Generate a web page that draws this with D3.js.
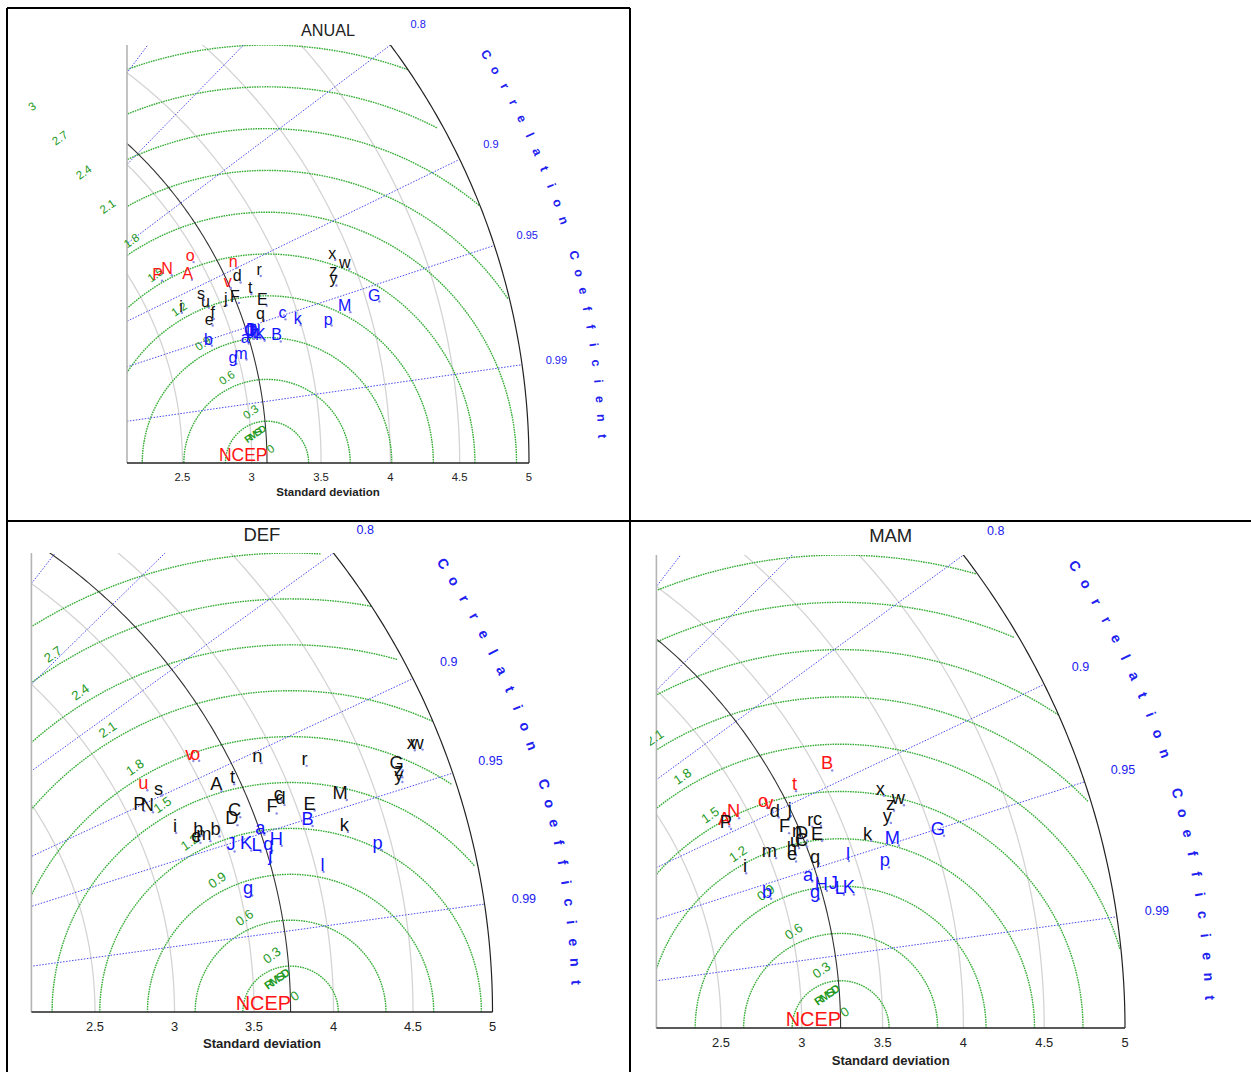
<!DOCTYPE html>
<html>
<head>
<meta charset="utf-8">
<script src="https://cdn.jsdelivr.net/npm/d3@7"></script>
<style>
  body { margin: 0; background: #fff; }
  svg { display: block; }
  text { font-family: "Liberation Sans", Arial, Helvetica, sans-serif; }
</style>
</head>
<body>
<svg id="fig" width="1251" height="1072"></svg>
<script>
// ---- Taylor diagram values: standard deviation and correlation per run ----
const panelNames = ["ANUAL", "DEF", "MAM"];
const refStd = [3.11, 3.73, 3.24];           // NCEP reference standard deviation
const stdTicks = [2.5, 3, 3.5, 4, 4.5, 5];
const stdCircles = [2.5, 3, 3.5, 4, 4.5];
const corrLines = [0.1, 0.2, 0.3, 0.4, 0.5, 0.6, 0.7, 0.8, 0.9, 0.95, 0.99];
const corrTickLabels = [0.8, 0.9, 0.95, 0.99];
const rmsTicks = [0.3, 0.6, 0.9, 1.2, 1.5, 1.8, 2.1, 2.4, 2.7, 3];
const stdMax = 5;
// group: 0 = red, 1 = black, 2 = blue
const anualLabels = ["a","b","c","d","e","f","g","i","j","k","l","m","n","o","p","q","r","s","t","u","v","w","x","y","z","A","B","C","D","E","F","G","H","I","J","K","L","M","N","P"];
const anualStd  = [3.099,2.840,3.403,3.194,2.892,2.916,2.976,2.719,3.037,3.496,3.145,3.054,3.213,2.956,3.710,3.253,3.346,2.902,3.234,2.912,3.114,3.958,3.886,3.829,3.849,2.886,3.326,3.152,3.167,3.306,3.126,4.089,3.188,3.140,3.143,3.215,3.191,3.866,2.772,2.692];
const anualCorr = [0.961,0.955,0.953,0.914,0.940,0.935,0.971,0.918,0.928,0.959,0.958,0.970,0.900,0.873,0.964,0.949,0.916,0.915,0.927,0.924,0.915,0.936,0.927,0.943,0.938,0.890,0.965,0.958,0.958,0.940,0.930,0.959,0.959,0.957,0.959,0.962,0.960,0.960,0.874,0.874];
const anualGroup = [2,2,2,1,1,1,2,1,1,2,2,2,0,0,2,1,1,1,1,1,0,1,1,1,1,0,2,2,2,1,1,2,2,2,2,2,2,2,0,0];

const defLabels = ["a","b","c","d","e","g","h","i","j","k","l","m","n","o","p","q","r","s","t","u","v","w","x","y","z","A","B","C","D","E","F","G","H","J","K","L","M","N","P"];
const defStd  = [3.749,3.478,3.926,3.932,3.351,3.571,3.379,3.230,3.739,4.257,4.043,3.414,3.902,3.557,4.431,3.766,4.155,3.246,3.689,3.179,3.524,4.872,4.825,4.681,4.691,3.598,4.055,3.643,3.609,4.099,3.867,4.709,3.832,3.537,3.639,3.694,4.312,3.148,3.102];
const defCorr = [0.951,0.944,0.936,0.939,0.944,0.977,0.940,0.932,0.965,0.961,0.974,0.945,0.909,0.887,0.971,0.960,0.922,0.900,0.915,0.890,0.885,0.936,0.935,0.947,0.945,0.916,0.954,0.937,0.941,0.947,0.942,0.942,0.959,0.955,0.957,0.959,0.947,0.910,0.906];
const defGroup = [2,1,1,1,1,2,1,1,2,1,2,1,1,0,2,2,1,1,1,0,0,1,1,1,1,1,2,1,1,1,1,1,2,2,2,2,1,1,1];

const mamLabels = ["a","b","c","d","e","g","h","i","j","k","l","m","n","o","p","q","r","t","u","v","w","x","y","z","A","B","C","D","E","F","G","H","J","K","L","M","N","P"];
const mamStd  = [3.202,2.927,3.372,3.154,3.147,3.213,3.160,2.831,3.226,3.629,3.458,3.038,3.228,3.115,3.683,3.277,3.320,3.323,3.194,3.137,3.897,3.805,3.782,3.827,2.854,3.582,3.244,3.258,3.343,3.172,4.067,3.273,3.333,3.428,3.368,3.782,2.931,2.856];
const mamCorr = [0.957,0.960,0.925,0.906,0.942,0.967,0.938,0.938,0.909,0.945,0.952,0.935,0.928,0.894,0.961,0.948,0.923,0.892,0.934,0.898,0.932,0.922,0.939,0.933,0.894,0.890,0.935,0.931,0.935,0.921,0.954,0.964,0.965,0.969,0.968,0.952,0.891,0.897];
const mamGroup = [2,2,1,1,1,2,1,1,1,1,2,1,1,0,2,1,1,0,1,0,1,1,1,1,0,0,1,1,1,1,2,2,2,2,2,2,0,1];

const panelData = [
  { labels: anualLabels, std: anualStd, corr: anualCorr, group: anualGroup },
  { labels: defLabels,   std: defStd,   corr: defCorr,   group: defGroup },
  { labels: mamLabels,   std: mamStd,   corr: mamCorr,   group: mamGroup }
];

// ---- layout of the three diagrams on the page ----
const layouts = [
  { x0: 127,   x1: 529,   y0: 463,  y1: 45,  k: 1.0,  clip: [9, 10, 619, 509],   titleY: 36,  tickDy: 18, labDy: 33 },
  { x0: 31.4,  x1: 492.5, y0: 1012, y1: 553, k: 1.14, clip: [30, 523, 598, 549], titleY: 541, tickDy: 18.5, labDy: 35.5 },
  { x0: 656.4, x1: 1125,  y0: 1028, y1: 555, k: 1.14, clip: [650, 523, 601, 549], titleY: 542, tickDy: 19, labDy: 36.5 }
];

const groupColor = d3.scaleOrdinal().domain([0, 1, 2]).range(["#ff1414", "#111111", "#1414ff"]);
const GREEN = "#36ad36", GREEN_TXT = "#1f9a1f", BLUE_LINE = "#4a4af0", BLUE_TXT = "#2020f0";

const svg = d3.select("#fig");
const defs = svg.append("defs");

function drawPanel(i) {
  const L = layouts[i], D = panelData[i], ref = refStd[i], k = L.k;
  const x = d3.scaleLinear().domain([2.1, 5]).range([L.x0, L.x1]);
  const y = d3.scaleLinear().domain([0, 3]).range([L.y0, L.y1]);
  const line = d3.line().x(d => x(d[0])).y(d => y(d[1]));
  const arcPts = (cx, r, a0, a1, n) => d3.range(n + 1).map(j => {
    const t = a0 + (a1 - a0) * j / n;
    return [cx + r * Math.cos(t), r * Math.sin(t)];
  });

  defs.append("clipPath").attr("id", "cell" + i).append("rect")
    .attr("x", L.clip[0]).attr("y", L.clip[1]).attr("width", L.clip[2]).attr("height", L.clip[3]);
  defs.append("clipPath").attr("id", "plot" + i).append("rect")
    .attr("x", L.x0).attr("y", L.y1).attr("width", L.x1 - L.x0 + 2).attr("height", L.y0 - L.y1);

  const g = svg.append("g").attr("clip-path", `url(#cell${i})`);
  const plot = g.append("g").attr("clip-path", `url(#plot${i})`);

  // standard deviation circles
  stdCircles.forEach(r => plot.append("path")
    .attr("d", line(arcPts(0, r, 0, Math.PI / 2, 240)))
    .attr("fill", "none").attr("stroke", "#d4d4d4").attr("stroke-width", 1.3));

  // centred RMS difference circles, kept inside the outer arc
  rmsTicks.forEach(r => {
    const pts = arcPts(ref, r, 0, Math.PI, 100).filter(p => Math.hypot(p[0], p[1]) < stdMax);
    plot.append("path").attr("d", line(pts))
      .attr("fill", "none").attr("stroke", GREEN).attr("stroke-width", 1.4)
      .attr("stroke-dasharray", "1.6,0.9");
  });

  // correlation rays
  corrLines.forEach(c => {
    const s = Math.sqrt(1 - c * c);
    plot.append("path").attr("d", line([[0, 0], [stdMax * c, stdMax * s]]))
      .attr("fill", "none").attr("stroke", BLUE_LINE).attr("stroke-width", 1)
      .attr("stroke-dasharray", "1.5,1.5");
  });

  // reference arc and outer arc
  plot.append("path").attr("d", line(arcPts(0, ref, 0, Math.PI / 2, 240)))
    .attr("fill", "none").attr("stroke", "#333").attr("stroke-width", 1.1);
  plot.append("path").attr("d", line(arcPts(0, stdMax, 0, Math.PI / 2, 240)))
    .attr("fill", "none").attr("stroke", "#222").attr("stroke-width", 1.2);

  // axes
  g.append("line").attr("x1", L.x0).attr("x2", L.x0).attr("y1", L.y1).attr("y2", L.y0)
    .attr("stroke", "#b4b4b4").attr("stroke-width", 1.6);
  g.append("line").attr("x1", L.x0).attr("x2", L.x1).attr("y1", L.y0).attr("y2", L.y0)
    .attr("stroke", "#222").attr("stroke-width", 1.6);

  // x tick labels and axis label
  g.selectAll(null).data(stdTicks).join("text")
    .attr("x", d => x(d)).attr("y", L.y0 + L.tickDy)
    .attr("text-anchor", "middle").attr("font-size", 11.3 * k).attr("fill", "#222")
    .text(d => d);
  g.append("text").attr("x", (L.x0 + L.x1) / 2).attr("y", L.y0 + L.labDy)
    .attr("text-anchor", "middle").attr("font-size", 11.5 * k).attr("font-weight", "bold")
    .attr("fill", "#222").text("Standard deviation");

  // title
  g.append("text").attr("x", (L.x0 + L.x1) / 2).attr("y", L.titleY)
    .attr("text-anchor", "middle").attr("font-size", 16.2 * k).attr("fill", "#222")
    .text(panelNames[i]);

  // correlation tick labels
  g.selectAll(null).data(corrTickLabels).join("text")
    .attr("x", d => x(5.25 * d)).attr("y", d => y(5.25 * Math.sqrt(1 - d * d)))
    .attr("text-anchor", "middle").attr("dominant-baseline", "central")
    .attr("font-size", 11 * k).attr("fill", BLUE_TXT).text(d => d);

  // "Correlation Coefficient" along an arc
  const title = "Correlation Coefficient".split("");
  const a0 = 32 * Math.PI / 180, a1 = 2 * Math.PI / 180, rr = 5.53;
  const ax = Math.abs(x(1) - x(0)), ay = Math.abs(y(1) - y(0));
  title.forEach((ch, j) => {
    const t = a0 + (a1 - a0) * j / (title.length - 1);
    const px = x(rr * Math.cos(t)), py = y(rr * Math.sin(t));
    const rot = Math.atan2(ay * Math.cos(t), ax * Math.sin(t)) * 180 / Math.PI;
    g.append("text").attr("transform", `translate(${px},${py}) rotate(${rot})`)
      .attr("text-anchor", "middle").attr("dominant-baseline", "central")
      .attr("font-size", 12.5 * k).attr("font-weight", "bold").attr("fill", BLUE_TXT)
      .text(ch);
  });

  // RMS difference labels
  const la = 125 * Math.PI / 180;
  [0].concat(rmsTicks).forEach(r => {
    const px = x(ref + r * Math.cos(la)) + 1.5 * k, py = y(r * Math.sin(la)) - 11.5 * k;
    g.append("text").attr("transform", `translate(${px},${py}) rotate(-35)`)
      .attr("text-anchor", "start").attr("dominant-baseline", "middle")
      .attr("font-size", 11.5 * k).attr("fill", GREEN_TXT).text(r);
  });
  g.append("text")
    .attr("transform", `translate(${x(ref) - 12 * k},${y(0) - 28 * k}) rotate(-35)`)
    .attr("text-anchor", "middle").attr("dominant-baseline", "middle")
    .attr("font-size", 10 * k).attr("font-weight", "bold").attr("letter-spacing", -1.8)
    .attr("fill", GREEN_TXT).text("RMSD");

  // reference point
  g.append("text").attr("x", x(ref) + 0.5).attr("y", y(0) - 2)
    .attr("text-anchor", "end").attr("font-size", 17.5 * k).attr("fill", "#ff1414").text("NCEP");

  // model points
  const pts = D.labels.map((lab, j) => {
    const c = D.corr[j], s = D.std[j];
    return { lab, gr: D.group[j], X: s * c, Y: s * Math.sqrt(1 - c * c) };
  });
  g.selectAll(null).data(pts).join("circle")
    .attr("cx", d => x(d.X)).attr("cy", d => y(d.Y)).attr("r", 1.2)
    .attr("fill", "#8c8ce6");
  g.selectAll(null).data(pts).join("text")
    .attr("x", d => x(d.X) + 1).attr("y", d => y(d.Y) - 1)
    .attr("text-anchor", "end").attr("font-size", 16 * k)
    .attr("fill", d => groupColor(d.gr)).text(d => d.lab);
}

[0, 1, 2].forEach(drawPanel);

// table frame around the panels
const frame = svg.append("g").attr("stroke", "#000").attr("stroke-width", 2);
frame.append("line").attr("x1", 7).attr("x2", 630).attr("y1", 8).attr("y2", 8);
frame.append("line").attr("x1", 7).attr("x2", 7).attr("y1", 8).attr("y2", 1072);
frame.append("line").attr("x1", 630).attr("x2", 630).attr("y1", 8).attr("y2", 1072);
frame.append("line").attr("x1", 7).attr("x2", 1251).attr("y1", 521).attr("y2", 521);
</script>
</body>
</html>
